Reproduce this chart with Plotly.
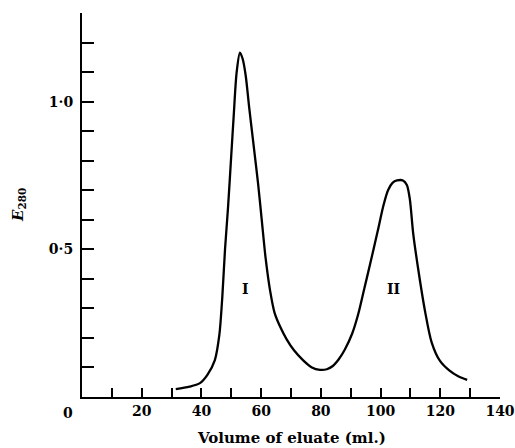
import plotly.graph_objects as go

# Elution profile
volume_ml = [31.4, 36, 39.5, 42, 44.5, 46.0, 47.0, 47.9, 48.9, 50.0, 50.8, 51.8, 52.9,
             53.8, 54.8, 56.0, 57.5, 59.0, 60.2, 61.5, 63.0, 64.5, 66.5, 68.5, 71, 74,
             77, 79.7, 82, 84, 86, 88, 90.5, 92.5, 94.5, 96.5, 99, 101, 102.5, 104,
             105.5, 107.5, 108.8, 109.8, 110.9, 112.5, 114.9, 117.1, 119.9, 123, 126, 129]
e280 = [0.027, 0.035, 0.047, 0.075, 0.125, 0.21, 0.34, 0.50, 0.64, 0.82, 0.95, 1.10, 1.166,
        1.145, 1.09, 0.98, 0.85, 0.72, 0.60, 0.47, 0.36, 0.285, 0.235, 0.196, 0.158, 0.125,
        0.100, 0.092, 0.094, 0.105, 0.128, 0.16, 0.215, 0.28, 0.365, 0.45, 0.56, 0.65, 0.70, 0.725,
        0.733, 0.733, 0.718, 0.67, 0.556, 0.44, 0.29, 0.185, 0.122, 0.09, 0.07, 0.058]

x_tick_vals = [20, 40, 60, 80, 100, 120, 140]
x_tick_text = ["20", "40", "60", "80", "100", "120", "140"]
x_minor_vals = [10, 30, 50, 70, 90, 110, 130]
y_tick_vals = [0.5, 1.0]
y_tick_text = ["0·5", "1·0"]
y_minor_vals = [0.1, 0.2, 0.3, 0.4, 0.6, 0.7, 0.8, 0.9, 1.1, 1.2, 1.3]

peak_labels = ["I", "II"]
peak_x = [54.6, 104.2]
peak_y = [0.365, 0.365]

FONT = "DejaVu Serif"

fig = go.Figure()
fig.add_trace(go.Scatter(x=volume_ml, y=e280, mode="lines",
                         line=dict(color="black", width=2.3, shape="spline", smoothing=0.8),
                         hoverinfo="skip"))

for t, px, py in zip(peak_labels, peak_x, peak_y):
    fig.add_annotation(x=px, y=py, text=t, showarrow=False,
                       font=dict(family=FONT, size=14, color="black", weight="bold"))

# origin label "0" sits left of the axis corner
fig.add_annotation(x=0, y=0, xref="x", yref="y", text="0", showarrow=False,
                   xanchor="center", yanchor="top", xshift=-14, yshift=-6,
                   font=dict(family=FONT, size=14, color="black", weight="bold"))

# axis titles
fig.add_annotation(x=0.5, y=0, xref="paper", yref="paper", text="Volume of eluate (ml.)",
                   showarrow=False, xanchor="center", yanchor="top", yshift=-30,
                   font=dict(family=FONT, size=15, color="black", weight="bold"))
fig.add_annotation(x=0, y=0.5, xref="paper", yref="paper", text="<i>E</i><sub>280</sub>",
                   showarrow=False, xanchor="center", yanchor="middle", xshift=-64,
                   textangle=-90,
                   font=dict(family=FONT, size=15, color="black", weight="bold"))

fig.update_layout(
    width=515, height=448,
    margin=dict(l=82, r=15, t=13, b=51, autoexpand=False),
    paper_bgcolor="white", plot_bgcolor="white",
    showlegend=False,
    font=dict(family=FONT, color="black"),
    xaxis=dict(range=[0, 140], tickvals=x_tick_vals, ticktext=x_tick_text,
               ticks="inside", ticklen=9, tickwidth=2, tickcolor="black",
               minor=dict(tickvals=x_minor_vals, ticks="inside", ticklen=9,
                          tickwidth=2, tickcolor="black", showgrid=False),
               showline=True, linewidth=2, linecolor="black",
               showgrid=False, zeroline=False, automargin=False,
               tickfont=dict(family=FONT, size=14, color="black", weight="bold")),
    yaxis=dict(range=[0, 1.3], tickvals=y_tick_vals, ticktext=y_tick_text,
               ticks="inside", ticklen=12, tickwidth=2, tickcolor="black",
               minor=dict(tickvals=y_minor_vals, ticks="inside", ticklen=12,
                          tickwidth=2, tickcolor="black", showgrid=False),
               showline=True, linewidth=2, linecolor="black",
               showgrid=False, zeroline=False, automargin=False,
               ticklabelstandoff=4,
               tickfont=dict(family=FONT, size=14, color="black", weight="bold")),
)

fig.write_html("out.html", config={"displayModeBar": False},
               post_script="document.body.style.margin='0';document.body.style.overflow='hidden';")
